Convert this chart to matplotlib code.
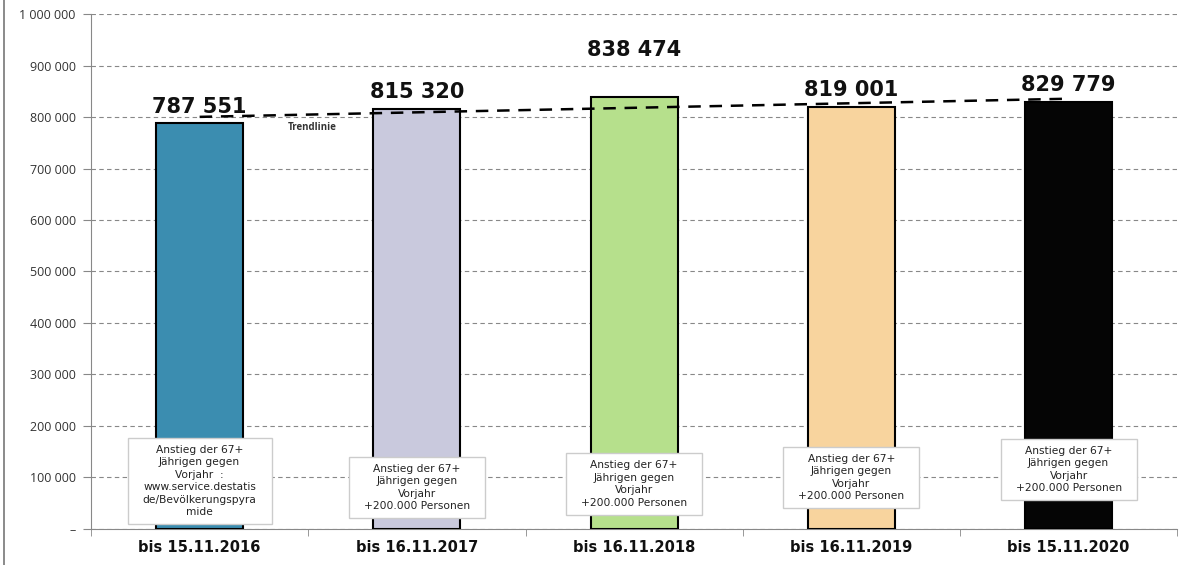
import numpy as np
import matplotlib.pyplot as plt
from matplotlib.patches import Rectangle
from matplotlib.font_manager import FontProperties
from matplotlib.ticker import FuncFormatter

plt.rcParams['font.family'] = ['Open Sans', 'DejaVu Sans']

categories = ['bis 15.11.2016', 'bis 16.11.2017', 'bis 16.11.2018',
              'bis 16.11.2019', 'bis 15.11.2020']
values = [787551, 815320, 838474, 819001, 829779]
value_labels = ['787 551', '815 320', '838 474', '819 001', '829 779']
notes = [
    'Anstieg der 67+\nJährigen gegen\nVorjahr  :\nwww.service.destatis\nde/Bevölkerungspyra\nmide',
    'Anstieg der 67+\nJährigen gegen\nVorjahr\n+200.000 Personen',
    'Anstieg der 67+\nJährigen gegen\nVorjahr\n+200.000 Personen',
    'Anstieg der 67+\nJährigen gegen\nVorjahr\n+200.000 Personen',
    'Anstieg der 67+\nJährigen gegen\nVorjahr\n+200.000 Personen',
]
colors = ['#3b8db0', '#c9c9dd', '#b6e08c', '#f8d49e', '#050505']

fig = plt.figure(figsize=(11.82, 5.65), dpi=100)
ax = fig.add_axes([0.077, 0.064, 0.919, 0.911])

x = np.arange(len(categories))
ax.bar(x, values, width=0.4, color=colors, edgecolor='black', linewidth=1.5, zorder=3)

# trend line (linear fit)
k, d = np.polyfit(x, values, 1)
ax.plot(x, k * x + d, color='black', linestyle=(0, (5, 3.5)), linewidth=1.8, zorder=4)
ax.text(0.52, 790000, 'Trendlinie', fontsize=7, fontweight='bold', color='#333333',
        ha='center', va='top', zorder=5)

# value labels
label_offsets = [5, 5, 27, 5, 5]
for xi, v, lab, off in zip(x, values, value_labels, label_offsets):
    ax.annotate(lab, (xi, v), xytext=(0, off), textcoords='offset points',
                ha='center', va='bottom', fontsize=15, fontweight='bold',
                family='DejaVu Sans', color='#111111', zorder=5)

# note boxes: text first, then a white frame sized around it
note_y = [93000, 80000, 87000, 100000, 115000]
note_texts = []
for xi, note, ny in zip(x, notes, note_y):
    t = ax.text(xi, ny, note, ha='center', va='center', fontsize=7.7,
                family='DejaVu Sans', color='#222222', linespacing=1.3, zorder=7)
    note_texts.append(t)

ax.set_xlim(-0.5, 4.5)
ax.set_ylim(0, 1000000)

fig.canvas.draw()
inv = ax.transData.inverted()
for t in note_texts:
    bb = t.get_window_extent()
    (x0, y0) = inv.transform((bb.x0 - 15, bb.y0 - 7))
    (x1, y1) = inv.transform((bb.x1 + 15, bb.y1 + 7))
    ax.add_patch(Rectangle((x0, y0), x1 - x0, y1 - y0, facecolor='white',
                           edgecolor='#cccccc', linewidth=1, zorder=6))

ax.set_yticks(np.arange(0, 1000001, 100000))
ax.yaxis.set_major_formatter(FuncFormatter(
    lambda v, p: '–' if v == 0 else f'{int(v):,}'.replace(',', ' ')))
ax.tick_params(axis='y', labelsize=9, labelcolor='#333333', color='#888888',
               length=6, pad=5)

tick_font = FontProperties(family='DejaVu Sans', weight='bold', size=10.5)
ax.set_xticks(x)
ax.set_xticklabels(categories, fontproperties=tick_font, color='#111111')
ax.set_xticks(np.arange(-0.5, 4.6, 1), minor=True)
ax.tick_params(axis='x', which='major', length=0, pad=8)
ax.tick_params(axis='x', which='minor', length=5, color='#888888')

ax.grid(axis='y', linestyle=(0, (4, 3)), color='#888888', linewidth=0.8, zorder=0)
for s in ['top', 'right']:
    ax.spines[s].set_visible(False)
for s in ['left', 'bottom']:
    ax.spines[s].set_color('#888888')

# scan border on the left
fig.add_artist(plt.Line2D([0.003, 0.003], [0.0, 1.0], color='#777777', linewidth=1.2))

fig.savefig('out.png', dpi=100)
